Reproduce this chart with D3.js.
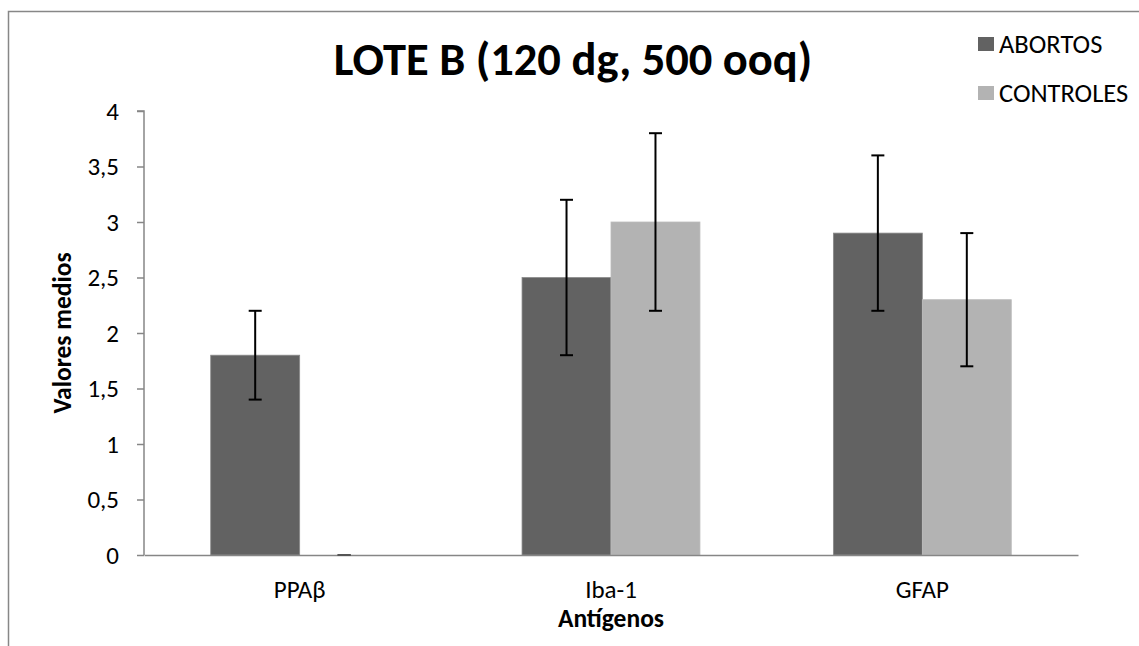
<!DOCTYPE html>
<html><head><meta charset="utf-8">
<script src="https://cdn.jsdelivr.net/npm/d3@7/dist/d3.min.js"></script>
<style>
html,body{margin:0;padding:0;background:#fff;}
text{font-family:Carlito, Calibri, Lato, sans-serif;}
</style></head>
<body>
<svg id="chart" width="1139" height="646"></svg>
<script>
const categories = ["PPAβ", "Iba-1", "GFAP"];
const seriesNames = ["ABORTOS", "CONTROLES"];
const abortos = [1.8, 2.5, 2.9];
const controles = [0, 3.0, 2.3];
const abortosErr = [0.4, 0.7, 0.7];
const controlesErr = [0, 0.8, 0.6];
const yTicks = [0, 0.5, 1, 1.5, 2, 2.5, 3, 3.5, 4];
const yTickLabels = ["0", "0,5", "1", "1,5", "2", "2,5", "3", "3,5", "4"];
const colors = ["#626262", "#b3b3b3"];

const svg = d3.select("#chart");
const plotLeft = 144, plotRight = 1078, plotTop = 111, plotBottom = 555;
const TICK_FS = 25, TITLE_FS = 25.5, LEG_FS = 26.5;
const FF = "Carlito, Calibri, Lato, sans-serif";

// outer border
svg.append("rect").attr("x", 8.5).attr("y", 11.5).attr("width", 1200).attr("height", 700)
  .attr("fill", "none").attr("stroke", "#878787").attr("stroke-width", 1.5);

const x = d3.scaleBand().domain(categories).range([plotLeft, plotRight]).paddingInner(0).paddingOuter(0);
const bw = x.bandwidth() / 3.5;
const y = d3.scaleLinear().domain([0, 4]).range([plotBottom, plotTop]);

const series = [
  {name: seriesNames[0], vals: abortos, errs: abortosErr, color: colors[0]},
  {name: seriesNames[1], vals: controles, errs: controlesErr, color: colors[1]}
];

// bars
series.forEach((s, si) => {
  const g = svg.append("g");
  g.selectAll("rect").data(categories).enter().append("rect")
    .attr("x", (d) => x(d) + x.bandwidth() / 2 - bw + si * bw)
    .attr("y", (d, i) => y(s.vals[i]))
    .attr("width", bw)
    .attr("height", (d, i) => y(0) - y(s.vals[i]))
    .attr("fill", s.color)
    .attr("stroke", si === 0 ? "#8a8a8a" : "#bcbcbc")
    .attr("stroke-width", 0.8);
});

// axes
const yAxis = d3.axisLeft(y).tickValues(yTicks).tickFormat((d, i) => yTickLabels[i]).tickSize(7).tickPadding(18);
const gy = svg.append("g").attr("transform", `translate(${plotLeft},0)`).call(yAxis);
gy.select(".domain").attr("stroke", "#868686").attr("stroke-width", 1.5).attr("d", `M-7,${plotTop}H0V${plotBottom}`);
gy.selectAll(".tick line").attr("stroke", "#868686").attr("stroke-width", 1.5);
gy.selectAll(".tick text").attr("font-size", TICK_FS).attr("fill", "#000").style("font-family", FF);

const xAxis = d3.axisBottom(x).tickSize(0).tickPadding(25.5);
const gx = svg.append("g").attr("transform", `translate(0,${plotBottom})`).call(xAxis);
gx.select(".domain").attr("stroke", "#868686").attr("stroke-width", 1.5);
gx.selectAll(".tick text").attr("font-size", TICK_FS).attr("fill", "#000").style("font-family", FF);

// error bars
series.forEach((s, si) => {
  const g = svg.append("g").attr("stroke", "#000").attr("stroke-width", 2);
  categories.forEach((c, i) => {
    const cx = x(c) + x.bandwidth() / 2 - bw + si * bw + bw / 2;
    const y1 = y(s.vals[i] + s.errs[i]), y2 = y(s.vals[i] - s.errs[i]);
    const col = s.errs[i] === 0 ? "#555" : "#000";
    g.append("line").attr("x1", cx).attr("x2", cx).attr("y1", y1).attr("y2", y2).attr("stroke", col);
    g.append("line").attr("x1", cx - 6.5).attr("x2", cx + 6.5).attr("y1", y1).attr("y2", y1).attr("stroke", col);
    g.append("line").attr("x1", cx - 6.5).attr("x2", cx + 6.5).attr("y1", y2).attr("y2", y2).attr("stroke", col);
  });
});

// title
svg.append("text").attr("x", 573).attr("y", 75).attr("text-anchor", "middle")
  .attr("font-size", 46.5).attr("font-weight", "bold").attr("fill", "#000")
  .text("LOTE B (120 dg, 500 ooq)");

// axis titles
svg.append("text").attr("x", (plotLeft + plotRight) / 2).attr("y", 627).attr("text-anchor", "middle")
  .attr("font-size", TITLE_FS).attr("font-weight", "bold").attr("fill", "#000").text("Antígenos");
svg.append("text").attr("transform", "translate(71,333) rotate(-90)").attr("text-anchor", "middle")
  .attr("font-size", TITLE_FS).attr("font-weight", "bold").attr("fill", "#000").text("Valores medios");

// legend
const lg = svg.append("g");
series.forEach((s, i) => {
  const yy = 37 + i * 49;
  lg.append("rect").attr("x", 978).attr("y", yy).attr("width", 16).attr("height", 14).attr("fill", s.color);
  lg.append("text").attr("x", 999).attr("y", yy + 16).attr("font-size", LEG_FS).attr("fill", "#000").text(s.name);
});
</script>
</body></html>
